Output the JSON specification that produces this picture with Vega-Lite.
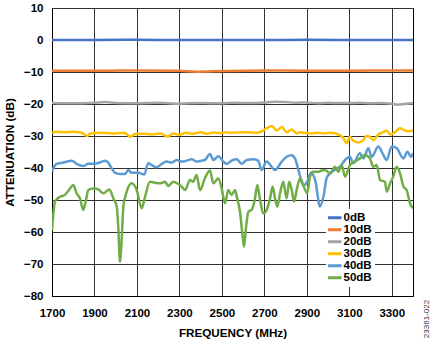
{
  "$schema": "https://vega.github.io/schema/vega-lite/v6.json",
  "autosize": {"type": "none"},
  "padding": {"left": 52, "top": 8, "right": 22, "bottom": 47},
  "width": 361,
  "height": 288,
  "background": "white",
  "title": {"text": "23361-022", "orient": "right", "anchor": "middle", "frame": "group", "angle": 270, "baseline": "middle", "fontSize": 8, "fontWeight": "normal", "font": "Liberation Sans", "color": "#333", "offset": 6, "dx": -167},
  "config": {
    "view": {"stroke": "#000", "strokeWidth": 1},
    "font": "Liberation Sans",
    "axis": {"labelFont": "Liberation Sans", "labelFontWeight": "bold", "labelFontSize": 11.5, "labelColor": "#000", "titleFont": "Liberation Sans", "titleFontWeight": "bold", "titleFontSize": 11.7, "titleColor": "#000", "gridColor": "#333", "gridWidth": 1, "gridOpacity": 1, "domainColor": "#000", "domainWidth": 1, "ticks": false, "labelFlush": false}
  },
  "data": {"values": [
    {"f":1700,"v":0,"s":"0dB"},{"f":1900,"v":0,"s":"0dB"},{"f":2100,"v":0.05,"s":"0dB"},{"f":2300,"v":0,"s":"0dB"},{"f":2500,"v":0,"s":"0dB"},{"f":2700,"v":0,"s":"0dB"},{"f":2900,"v":0.05,"s":"0dB"},{"f":3100,"v":0,"s":"0dB"},{"f":3300,"v":0,"s":"0dB"},{"f":3400,"v":0,"s":"0dB"},
    {"f":1700,"v":-9.6,"s":"10dB"},{"f":1950,"v":-9.6,"s":"10dB"},{"f":2100,"v":-9.5,"s":"10dB"},{"f":2300,"v":-9.6,"s":"10dB"},{"f":2380,"v":-9.9,"s":"10dB"},{"f":2500,"v":-9.7,"s":"10dB"},{"f":2700,"v":-9.5,"s":"10dB"},{"f":2900,"v":-9.6,"s":"10dB"},{"f":3100,"v":-9.6,"s":"10dB"},{"f":3300,"v":-9.5,"s":"10dB"},{"f":3400,"v":-9.5,"s":"10dB"},
    {"f":1700,"v":-19.7,"s":"20dB"},{"f":1800,"v":-19.8,"s":"20dB"},{"f":1900,"v":-19.6,"s":"20dB"},{"f":1950,"v":-19.4,"s":"20dB"},{"f":2000,"v":-19.7,"s":"20dB"},{"f":2100,"v":-19.8,"s":"20dB"},{"f":2200,"v":-19.6,"s":"20dB"},{"f":2300,"v":-19.9,"s":"20dB"},{"f":2400,"v":-19.7,"s":"20dB"},{"f":2500,"v":-19.8,"s":"20dB"},{"f":2550,"v":-19.6,"s":"20dB"},{"f":2650,"v":-19.7,"s":"20dB"},{"f":2700,"v":-19.5,"s":"20dB"},{"f":2750,"v":-19.3,"s":"20dB"},{"f":2800,"v":-19.4,"s":"20dB"},{"f":2850,"v":-19.6,"s":"20dB"},{"f":2900,"v":-19.5,"s":"20dB"},{"f":2950,"v":-19.8,"s":"20dB"},{"f":3000,"v":-19.6,"s":"20dB"},{"f":3050,"v":-19.7,"s":"20dB"},{"f":3100,"v":-19.7,"s":"20dB"},{"f":3150,"v":-19.6,"s":"20dB"},{"f":3200,"v":-19.8,"s":"20dB"},{"f":3250,"v":-19.7,"s":"20dB"},{"f":3300,"v":-19.9,"s":"20dB"},{"f":3330,"v":-20.2,"s":"20dB"},{"f":3360,"v":-20.0,"s":"20dB"},{"f":3400,"v":-19.8,"s":"20dB"},
    {"f":1700,"v":-29.0,"s":"30dB"},{"f":1720,"v":-28.7,"s":"30dB"},{"f":1760,"v":-28.8,"s":"30dB"},{"f":1800,"v":-28.7,"s":"30dB"},{"f":1840,"v":-29.0,"s":"30dB"},{"f":1865,"v":-30.0,"s":"30dB"},{"f":1880,"v":-29.2,"s":"30dB"},{"f":1920,"v":-29.0,"s":"30dB"},{"f":1960,"v":-29.1,"s":"30dB"},{"f":2000,"v":-29.2,"s":"30dB"},{"f":2040,"v":-29.0,"s":"30dB"},{"f":2070,"v":-30.2,"s":"30dB"},{"f":2090,"v":-29.4,"s":"30dB"},{"f":2130,"v":-29.3,"s":"30dB"},{"f":2170,"v":-29.5,"s":"30dB"},{"f":2210,"v":-29.2,"s":"30dB"},{"f":2245,"v":-30.2,"s":"30dB"},{"f":2270,"v":-29.2,"s":"30dB"},{"f":2300,"v":-29.6,"s":"30dB"},{"f":2330,"v":-29.0,"s":"30dB"},{"f":2360,"v":-29.3,"s":"30dB"},{"f":2400,"v":-28.8,"s":"30dB"},{"f":2430,"v":-29.3,"s":"30dB"},{"f":2460,"v":-28.9,"s":"30dB"},{"f":2490,"v":-29.1,"s":"30dB"},{"f":2520,"v":-28.8,"s":"30dB"},{"f":2538,"v":-29.0,"s":"30dB"},{"f":2580,"v":-28.9,"s":"30dB"},{"f":2617,"v":-28.8,"s":"30dB"},{"f":2660,"v":-29.0,"s":"30dB"},{"f":2687,"v":-28.6,"s":"30dB"},{"f":2711,"v":-27.6,"s":"30dB"},{"f":2735,"v":-26.9,"s":"30dB"},{"f":2758,"v":-28.3,"s":"30dB"},{"f":2782,"v":-27.2,"s":"30dB"},{"f":2805,"v":-28.8,"s":"30dB"},{"f":2829,"v":-28.0,"s":"30dB"},{"f":2852,"v":-29.2,"s":"30dB"},{"f":2868,"v":-28.8,"s":"30dB"},{"f":2915,"v":-29.2,"s":"30dB"},{"f":2950,"v":-29.0,"s":"30dB"},{"f":2978,"v":-29.2,"s":"30dB"},{"f":3009,"v":-29.0,"s":"30dB"},{"f":3056,"v":-29.7,"s":"30dB"},{"f":3070,"v":-30.5,"s":"30dB"},{"f":3088,"v":-32.3,"s":"30dB"},{"f":3103,"v":-30.2,"s":"30dB"},{"f":3119,"v":-31.5,"s":"30dB"},{"f":3143,"v":-32.0,"s":"30dB"},{"f":3166,"v":-31.3,"s":"30dB"},{"f":3180,"v":-30.0,"s":"30dB"},{"f":3197,"v":-30.3,"s":"30dB"},{"f":3213,"v":-31.3,"s":"30dB"},{"f":3237,"v":-29.5,"s":"30dB"},{"f":3260,"v":-28.8,"s":"30dB"},{"f":3276,"v":-28.3,"s":"30dB"},{"f":3292,"v":-29.5,"s":"30dB"},{"f":3315,"v":-28.8,"s":"30dB"},{"f":3339,"v":-27.6,"s":"30dB"},{"f":3362,"v":-28.3,"s":"30dB"},{"f":3380,"v":-28.5,"s":"30dB"},{"f":3400,"v":-28.3,"s":"30dB"},
    {"f":1700,"v":-41.0,"s":"40dB"},{"f":1706,"v":-40.1,"s":"40dB"},{"f":1722,"v":-38.7,"s":"40dB"},{"f":1753,"v":-38.3,"s":"40dB"},{"f":1793,"v":-37.7,"s":"40dB"},{"f":1816,"v":-38.7,"s":"40dB"},{"f":1847,"v":-39.4,"s":"40dB"},{"f":1871,"v":-38.7,"s":"40dB"},{"f":1895,"v":-38.7,"s":"40dB"},{"f":1926,"v":-38.3,"s":"40dB"},{"f":1950,"v":-37.7,"s":"40dB"},{"f":1965,"v":-38.3,"s":"40dB"},{"f":1981,"v":-40.1,"s":"40dB"},{"f":1997,"v":-41.5,"s":"40dB"},{"f":2028,"v":-41.9,"s":"40dB"},{"f":2044,"v":-41.9,"s":"40dB"},{"f":2059,"v":-40.6,"s":"40dB"},{"f":2075,"v":-41.5,"s":"40dB"},{"f":2106,"v":-41.5,"s":"40dB"},{"f":2135,"v":-42.0,"s":"40dB"},{"f":2153,"v":-38.5,"s":"40dB"},{"f":2169,"v":-39.1,"s":"40dB"},{"f":2193,"v":-39.8,"s":"40dB"},{"f":2217,"v":-38.7,"s":"40dB"},{"f":2240,"v":-38.0,"s":"40dB"},{"f":2264,"v":-38.3,"s":"40dB"},{"f":2287,"v":-37.5,"s":"40dB"},{"f":2311,"v":-38.0,"s":"40dB"},{"f":2334,"v":-37.7,"s":"40dB"},{"f":2358,"v":-37.3,"s":"40dB"},{"f":2381,"v":-38.0,"s":"40dB"},{"f":2405,"v":-37.7,"s":"40dB"},{"f":2420,"v":-37.5,"s":"40dB"},{"f":2444,"v":-35.6,"s":"40dB"},{"f":2460,"v":-37.5,"s":"40dB"},{"f":2483,"v":-36.3,"s":"40dB"},{"f":2507,"v":-38.0,"s":"40dB"},{"f":2523,"v":-38.7,"s":"40dB"},{"f":2546,"v":-37.7,"s":"40dB"},{"f":2570,"v":-37.3,"s":"40dB"},{"f":2593,"v":-38.7,"s":"40dB"},{"f":2617,"v":-37.5,"s":"40dB"},{"f":2648,"v":-37.3,"s":"40dB"},{"f":2671,"v":-37.7,"s":"40dB"},{"f":2687,"v":-40.6,"s":"40dB"},{"f":2711,"v":-38.0,"s":"40dB"},{"f":2750,"v":-40.6,"s":"40dB"},{"f":2782,"v":-38.0,"s":"40dB"},{"f":2805,"v":-36.5,"s":"40dB"},{"f":2829,"v":-36.0,"s":"40dB"},{"f":2844,"v":-37.0,"s":"40dB"},{"f":2868,"v":-42.5,"s":"40dB"},{"f":2883,"v":-45.5,"s":"40dB"},{"f":2900,"v":-44.5,"s":"40dB"},{"f":2920,"v":-41.5,"s":"40dB"},{"f":2940,"v":-44.0,"s":"40dB"},{"f":2962,"v":-52.0,"s":"40dB"},{"f":2978,"v":-49.0,"s":"40dB"},{"f":2994,"v":-43.0,"s":"40dB"},{"f":3009,"v":-41.7,"s":"40dB"},{"f":3033,"v":-40.5,"s":"40dB"},{"f":3056,"v":-39.6,"s":"40dB"},{"f":3080,"v":-37.5,"s":"40dB"},{"f":3103,"v":-36.5,"s":"40dB"},{"f":3119,"v":-38.5,"s":"40dB"},{"f":3150,"v":-35.4,"s":"40dB"},{"f":3166,"v":-37.0,"s":"40dB"},{"f":3190,"v":-33.8,"s":"40dB"},{"f":3205,"v":-36.5,"s":"40dB"},{"f":3237,"v":-33.3,"s":"40dB"},{"f":3260,"v":-35.9,"s":"40dB"},{"f":3276,"v":-37.5,"s":"40dB"},{"f":3300,"v":-33.3,"s":"40dB"},{"f":3323,"v":-33.8,"s":"40dB"},{"f":3355,"v":-37.0,"s":"40dB"},{"f":3374,"v":-34.9,"s":"40dB"},{"f":3390,"v":-36.5,"s":"40dB"},{"f":3400,"v":-35.4,"s":"40dB"},
    {"f":1700,"v":-59.5,"s":"50dB"},{"f":1714,"v":-50.5,"s":"50dB"},{"f":1738,"v":-49.0,"s":"50dB"},{"f":1761,"v":-48.4,"s":"50dB"},{"f":1785,"v":-46.4,"s":"50dB"},{"f":1800,"v":-45.3,"s":"50dB"},{"f":1816,"v":-47.9,"s":"50dB"},{"f":1832,"v":-49.5,"s":"50dB"},{"f":1847,"v":-53.1,"s":"50dB"},{"f":1860,"v":-50.0,"s":"50dB"},{"f":1871,"v":-46.9,"s":"50dB"},{"f":1895,"v":-46.4,"s":"50dB"},{"f":1918,"v":-46.7,"s":"50dB"},{"f":1942,"v":-47.9,"s":"50dB"},{"f":1970,"v":-46.7,"s":"50dB"},{"f":1989,"v":-49.5,"s":"50dB"},{"f":2005,"v":-52.1,"s":"50dB"},{"f":2012,"v":-58.3,"s":"50dB"},{"f":2020,"v":-69.3,"s":"50dB"},{"f":2028,"v":-62.5,"s":"50dB"},{"f":2036,"v":-52.1,"s":"50dB"},{"f":2052,"v":-47.4,"s":"50dB"},{"f":2075,"v":-44.8,"s":"50dB"},{"f":2099,"v":-46.9,"s":"50dB"},{"f":2122,"v":-52.6,"s":"50dB"},{"f":2138,"v":-49.0,"s":"50dB"},{"f":2161,"v":-44.3,"s":"50dB"},{"f":2185,"v":-44.6,"s":"50dB"},{"f":2209,"v":-44.8,"s":"50dB"},{"f":2232,"v":-44.3,"s":"50dB"},{"f":2248,"v":-45.6,"s":"50dB"},{"f":2271,"v":-44.3,"s":"50dB"},{"f":2295,"v":-45.0,"s":"50dB"},{"f":2311,"v":-45.8,"s":"50dB"},{"f":2326,"v":-46.9,"s":"50dB"},{"f":2350,"v":-43.75,"s":"50dB"},{"f":2365,"v":-44.3,"s":"50dB"},{"f":2381,"v":-42.2,"s":"50dB"},{"f":2397,"v":-46.9,"s":"50dB"},{"f":2420,"v":-43.2,"s":"50dB"},{"f":2444,"v":-40.8,"s":"50dB"},{"f":2460,"v":-44.8,"s":"50dB"},{"f":2483,"v":-43.2,"s":"50dB"},{"f":2499,"v":-46.4,"s":"50dB"},{"f":2515,"v":-51.0,"s":"50dB"},{"f":2530,"v":-46.9,"s":"50dB"},{"f":2546,"v":-48.4,"s":"50dB"},{"f":2562,"v":-46.9,"s":"50dB"},{"f":2572,"v":-49.5,"s":"50dB"},{"f":2585,"v":-53.6,"s":"50dB"},{"f":2598,"v":-61.5,"s":"50dB"},{"f":2604,"v":-64.6,"s":"50dB"},{"f":2614,"v":-58.3,"s":"50dB"},{"f":2625,"v":-53.6,"s":"50dB"},{"f":2640,"v":-53.1,"s":"50dB"},{"f":2656,"v":-49.5,"s":"50dB"},{"f":2667,"v":-45.3,"s":"50dB"},{"f":2680,"v":-50.0,"s":"50dB"},{"f":2695,"v":-54.2,"s":"50dB"},{"f":2711,"v":-53.1,"s":"50dB"},{"f":2727,"v":-49.5,"s":"50dB"},{"f":2739,"v":-45.8,"s":"50dB"},{"f":2750,"v":-49.5,"s":"50dB"},{"f":2761,"v":-52.1,"s":"50dB"},{"f":2774,"v":-47.9,"s":"50dB"},{"f":2789,"v":-44.3,"s":"50dB"},{"f":2805,"v":-49.5,"s":"50dB"},{"f":2817,"v":-44.3,"s":"50dB"},{"f":2829,"v":-46.9,"s":"50dB"},{"f":2840,"v":-50.5,"s":"50dB"},{"f":2852,"v":-46.9,"s":"50dB"},{"f":2868,"v":-43.2,"s":"50dB"},{"f":2883,"v":-45.3,"s":"50dB"},{"f":2902,"v":-47.9,"s":"50dB"},{"f":2915,"v":-42.7,"s":"50dB"},{"f":2930,"v":-41.2,"s":"50dB"},{"f":2954,"v":-41.2,"s":"50dB"},{"f":2970,"v":-40.8,"s":"50dB"},{"f":2986,"v":-40.6,"s":"50dB"},{"f":3009,"v":-41.7,"s":"50dB"},{"f":3033,"v":-39.6,"s":"50dB"},{"f":3048,"v":-41.2,"s":"50dB"},{"f":3064,"v":-39.1,"s":"50dB"},{"f":3080,"v":-42.7,"s":"50dB"},{"f":3103,"v":-39.1,"s":"50dB"},{"f":3127,"v":-38.0,"s":"50dB"},{"f":3150,"v":-37.0,"s":"50dB"},{"f":3174,"v":-35.9,"s":"50dB"},{"f":3197,"v":-37.0,"s":"50dB"},{"f":3213,"v":-39.6,"s":"50dB"},{"f":3229,"v":-39.1,"s":"50dB"},{"f":3245,"v":-43.75,"s":"50dB"},{"f":3268,"v":-44.3,"s":"50dB"},{"f":3276,"v":-47.4,"s":"50dB"},{"f":3292,"v":-44.8,"s":"50dB"},{"f":3307,"v":-42.7,"s":"50dB"},{"f":3323,"v":-39.6,"s":"50dB"},{"f":3339,"v":-41.7,"s":"50dB"},{"f":3355,"v":-45.8,"s":"50dB"},{"f":3370,"v":-46.9,"s":"50dB"},{"f":3386,"v":-51.0,"s":"50dB"},{"f":3400,"v":-52.6,"s":"50dB"}
  ]},
  "mark": {"type": "line", "strokeWidth": 2.5, "interpolate": "monotone", "clip": true},
  "encoding": {
    "x": {"field": "f", "type": "quantitative", "scale": {"domain": [1700, 3400], "nice": false, "zero": false},
      "axis": {"title": "FREQUENCY (MHz)", "values": [1700, 1900, 2100, 2300, 2500, 2700, 2900, 3100, 3300], "grid": true, "labelPadding": 11, "titlePadding": 9, "format": "d"}},
    "y": {"field": "v", "type": "quantitative", "scale": {"domain": [-80, 10], "nice": false, "zero": false},
      "axis": {"title": "ATTENUATION (dB)", "values": [-80, -70, -60, -50, -40, -30, -20, -10, 0, 10], "grid": true, "labelPadding": 9, "titlePadding": 8}},
    "color": {"field": "s", "type": "nominal",
      "scale": {"domain": ["0dB", "10dB", "20dB", "30dB", "40dB", "50dB"], "range": ["#4472C4", "#ED7D31", "#A5A5A5", "#FFC000", "#5B9BD5", "#70AD47"]},
      "legend": {"title": null, "orient": "none", "legendX": 274, "legendY": 201, "fillColor": "white", "padding": 3, "symbolType": "M-1.69,0H1.69", "symbolStrokeWidth": 3, "symbolSize": 64, "labelFont": "Liberation Sans", "labelFontWeight": "bold", "labelFontSize": 11.5, "labelColor": "#000", "labelOffset": 3, "rowPadding": -1.2}}
  }
}
